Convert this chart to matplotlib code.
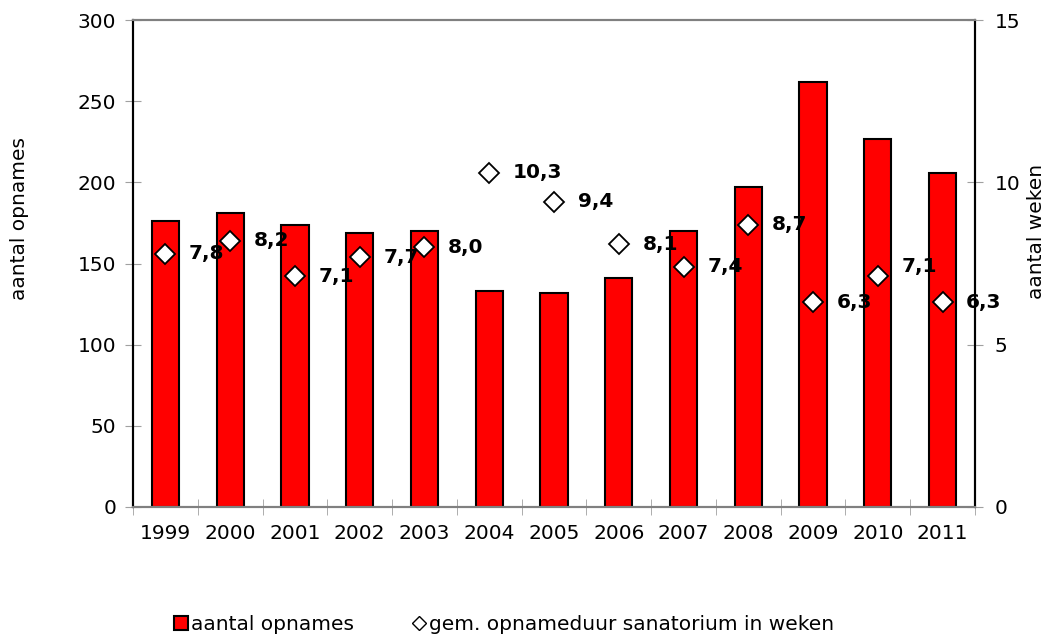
import matplotlib
matplotlib.use("Agg")
import matplotlib.pyplot as plt
from matplotlib.lines import Line2D

plt.rcParams['font.family'] = ['DejaVu Sans']

years = ['1999', '2000', '2001', '2002', '2003', '2004', '2005',
         '2006', '2007', '2008', '2009', '2010', '2011']
opnames = [176, 181, 174, 169, 170, 133, 132, 141, 170, 197, 262, 227, 206]
weken = [7.8, 8.2, 7.1, 7.7, 8.0, 10.3, 9.4, 8.1, 7.4, 8.7, 6.3, 7.1, 6.3]
weken_labels = ['7,8', '8,2', '7,1', '7,7', '8,0', '10,3', '9,4',
                '8,1', '7,4', '8,7', '6,3', '7,1', '6,3']
# small vertical nudges (pt) for a few labels
label_dy = {11: 7}

fs = 14.5
fig = plt.figure(figsize=(10.48, 6.39), dpi=100)
ax = fig.add_axes([133 / 1048, 1 - 507 / 639, 842 / 1048, 487 / 639])
x = list(range(len(years)))

ax.bar(x, opnames, width=0.42, color='#ff0000', edgecolor='black',
       linewidth=1.5, zorder=2)
ax.set_xlim(-0.5, len(years) - 0.5)
ax.set_ylim(0, 300)
ax.set_yticks(range(0, 301, 50))
ax.set_xticks(x)
ax.set_xticklabels(years)
ax.set_xticks([i - 0.5 for i in range(len(years) + 1)], minor=True)
ax.tick_params(axis='x', which='major', length=0, pad=12, labelsize=fs)
ax.tick_params(axis='x', which='minor', length=12, direction='inout',
               color='#a0a0a0')
ax.tick_params(axis='y', length=12, direction='inout', color='#a0a0a0',
               labelsize=fs, pad=6)
ax.set_ylabel('aantal opnames', fontsize=fs)
ax.yaxis.set_label_coords(-0.1235, 0.593)

ax2 = ax.twinx()
ax2.set_ylim(0, 15)
ax2.set_yticks([0, 5, 10, 15])
ax2.tick_params(axis='y', length=12, direction='inout', color='#a0a0a0',
                labelsize=fs, pad=8)
ax2.set_ylabel('aantal weken', fontsize=fs)
ax2.yaxis.set_label_coords(1.062, 0.565)
ax2.plot(x, weken, linestyle='none', marker='D', markersize=10,
         markerfacecolor='white', markeredgecolor='black',
         markeredgewidth=1.3, zorder=3)
for i, (v, lab) in enumerate(zip(weken, weken_labels)):
    ax2.annotate(lab, (i, v), xytext=(17, label_dy.get(i, 0)),
                 textcoords='offset points', ha='left', va='center',
                 fontsize=fs, fontweight='bold')

for a in (ax, ax2):
    for side in ('top', 'bottom'):
        a.spines[side].set_color('#808080')
    for side in ('left', 'right'):
        a.spines[side].set_color('black')
    for side in a.spines:
        a.spines[side].set_linewidth(1.5)

handles = [
    Line2D([], [], linestyle='none', marker='s', markersize=10,
           markerfacecolor='#ff0000', markeredgecolor='black',
           markeredgewidth=1.5),
    Line2D([], [], linestyle='none', marker='D', markersize=7,
           markerfacecolor='white', markeredgecolor='black',
           markeredgewidth=1.0),
]
fig.legend(handles, ['aantal opnames',
                     'gem. opnameduur sanatorium in weken'],
           loc='center left', bbox_to_anchor=(175 / 1048, 1 - 625 / 639),
           ncol=2, frameon=False, fontsize=fs, handlelength=0.6,
           handletextpad=0.2, columnspacing=2.9, borderpad=0,
           borderaxespad=0)

fig.savefig('out.png', dpi=100)
